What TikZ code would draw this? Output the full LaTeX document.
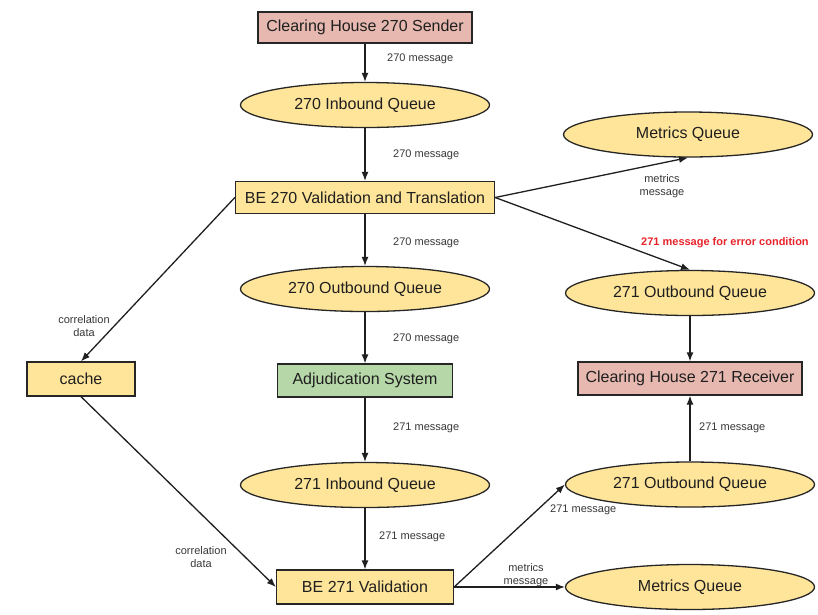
\documentclass[tikz,border=0pt]{standalone}
\usepackage{fontspec}
\setmainfont{Liberation Sans}
\usetikzlibrary{arrows.meta,shapes.geometric,positioning}
\definecolor{pinkbox}{HTML}{E6B8AF}
\definecolor{queuefill}{HTML}{FFE599}
\definecolor{adjgreen}{HTML}{B6D7A8}
\definecolor{errred}{HTML}{E8242B}

\begin{document}
\begin{tikzpicture}[
  x=1pt,
  y=-1pt,
  every node/.style={font=\fontsize{16}{19}\selectfont, text=black!88},
  house/.style={draw=black!85, fill=pinkbox, line width=1.3pt, minimum width=214pt, minimum height=31pt, inner sep=2pt},
  proc/.style={draw=black!85, fill=queuefill, line width=1.3pt, minimum height=32pt, inner sep=2pt},
  adj/.style={draw=black!85, fill=adjgreen, line width=1.3pt, minimum width=175pt, minimum height=33pt, inner sep=2pt},
  queue/.style={ellipse, draw=black!85, fill=queuefill, line width=1.3pt, minimum width=249pt, minimum height=45pt, inner sep=0pt},
  msg/.style={font=\fontsize{11}{13}\selectfont, text=black!78, align=center, inner sep=1pt},
  errmsg/.style={msg, font=\fontsize{11}{13}\selectfont\bfseries, text=errred},
  flow/.style={-{Latex[length=9pt,width=7pt]}, line width=1.3pt, draw=black!88}
]
\useasboundingbox[fill=white] (0,0) rectangle (818,614);

% centre column
\node[house] (sender) at (365,27.5) {Clearing House 270 Sender};
\node[queue] (inq270) at (365,105) {270 Inbound Queue};
\node[proc, minimum width=259pt] (be270) at (365,197.5) {BE 270 Validation and Translation};
\node[queue] (outq270) at (365,289) {270 Outbound Queue};
\node[adj] (adjsys) at (365,380.5) {Adjudication System};
\node[queue] (inq271) at (365,485) {271 Inbound Queue};
\node[proc, minimum width=177pt, minimum height=34pt] (be271) at (365,587) {BE 271 Validation};

% left and right columns
\node[proc, minimum width=108pt, minimum height=34pt] (cache) at (81,379) {cache};
\node[queue] (metq1) at (688,134.5) {Metrics Queue};
\node[queue] (outq271a) at (690,293) {271 Outbound Queue};
\node[house, minimum width=224pt, minimum height=33pt] (recv) at (690,378.5) {Clearing House 271 Receiver};
\node[queue] (outq271b) at (690,484.5) {271 Outbound Queue};
\node[queue] (metq2) at (690,587) {Metrics Queue};

% connectors
\draw[flow] (sender) -- (inq270);
\draw[flow] (inq270) -- (be270);
\draw[flow] (be270) -- (outq270);
\draw[flow] (outq270) -- (adjsys);
\draw[flow] (adjsys) -- (inq271);
\draw[flow] (inq271) -- (be271);
\draw[flow] (be270.east) -- (metq1.south);
\draw[flow] (be270.east) -- (outq271a.north);
\draw[flow] (outq271a) -- (recv);
\draw[flow] (outq271b) -- (recv);
\draw[flow] (be271.east) -- (outq271b.west);
\draw[flow] (be271.east) -- (metq2.west);
\draw[flow] (be270.west) -- (cache.north);
\draw[flow] (cache.south) -- (be271.west);

% labels
\node[msg, anchor=west] (l1) at (386,59) {270 message};
\node[msg, anchor=west] (l2) at (392,155) {270 message};
\node[msg, anchor=west] (l3) at (392,243) {270 message};
\node[msg, anchor=west] (l4) at (392,339) {270 message};
\node[msg, anchor=west] (l5) at (392,428) {271 message};
\node[msg, anchor=west] (l6) at (378,537) {271 message};
\node[msg] (l7) at (662,186) {metrics\\message};
\node[errmsg, anchor=west] (l8) at (640,243) {271 message for error condition};
\node[msg] (l9) at (84,326) {correlation\\data};
\node[msg] (l10) at (201,557) {correlation\\data};
\node[msg, anchor=west] (l11) at (549,510) {271 message};
\node[msg] (l12) at (526,575) {metrics\\message};
\node[msg, anchor=west] (l13) at (698,428) {271 message};
\end{tikzpicture}
\end{document}
